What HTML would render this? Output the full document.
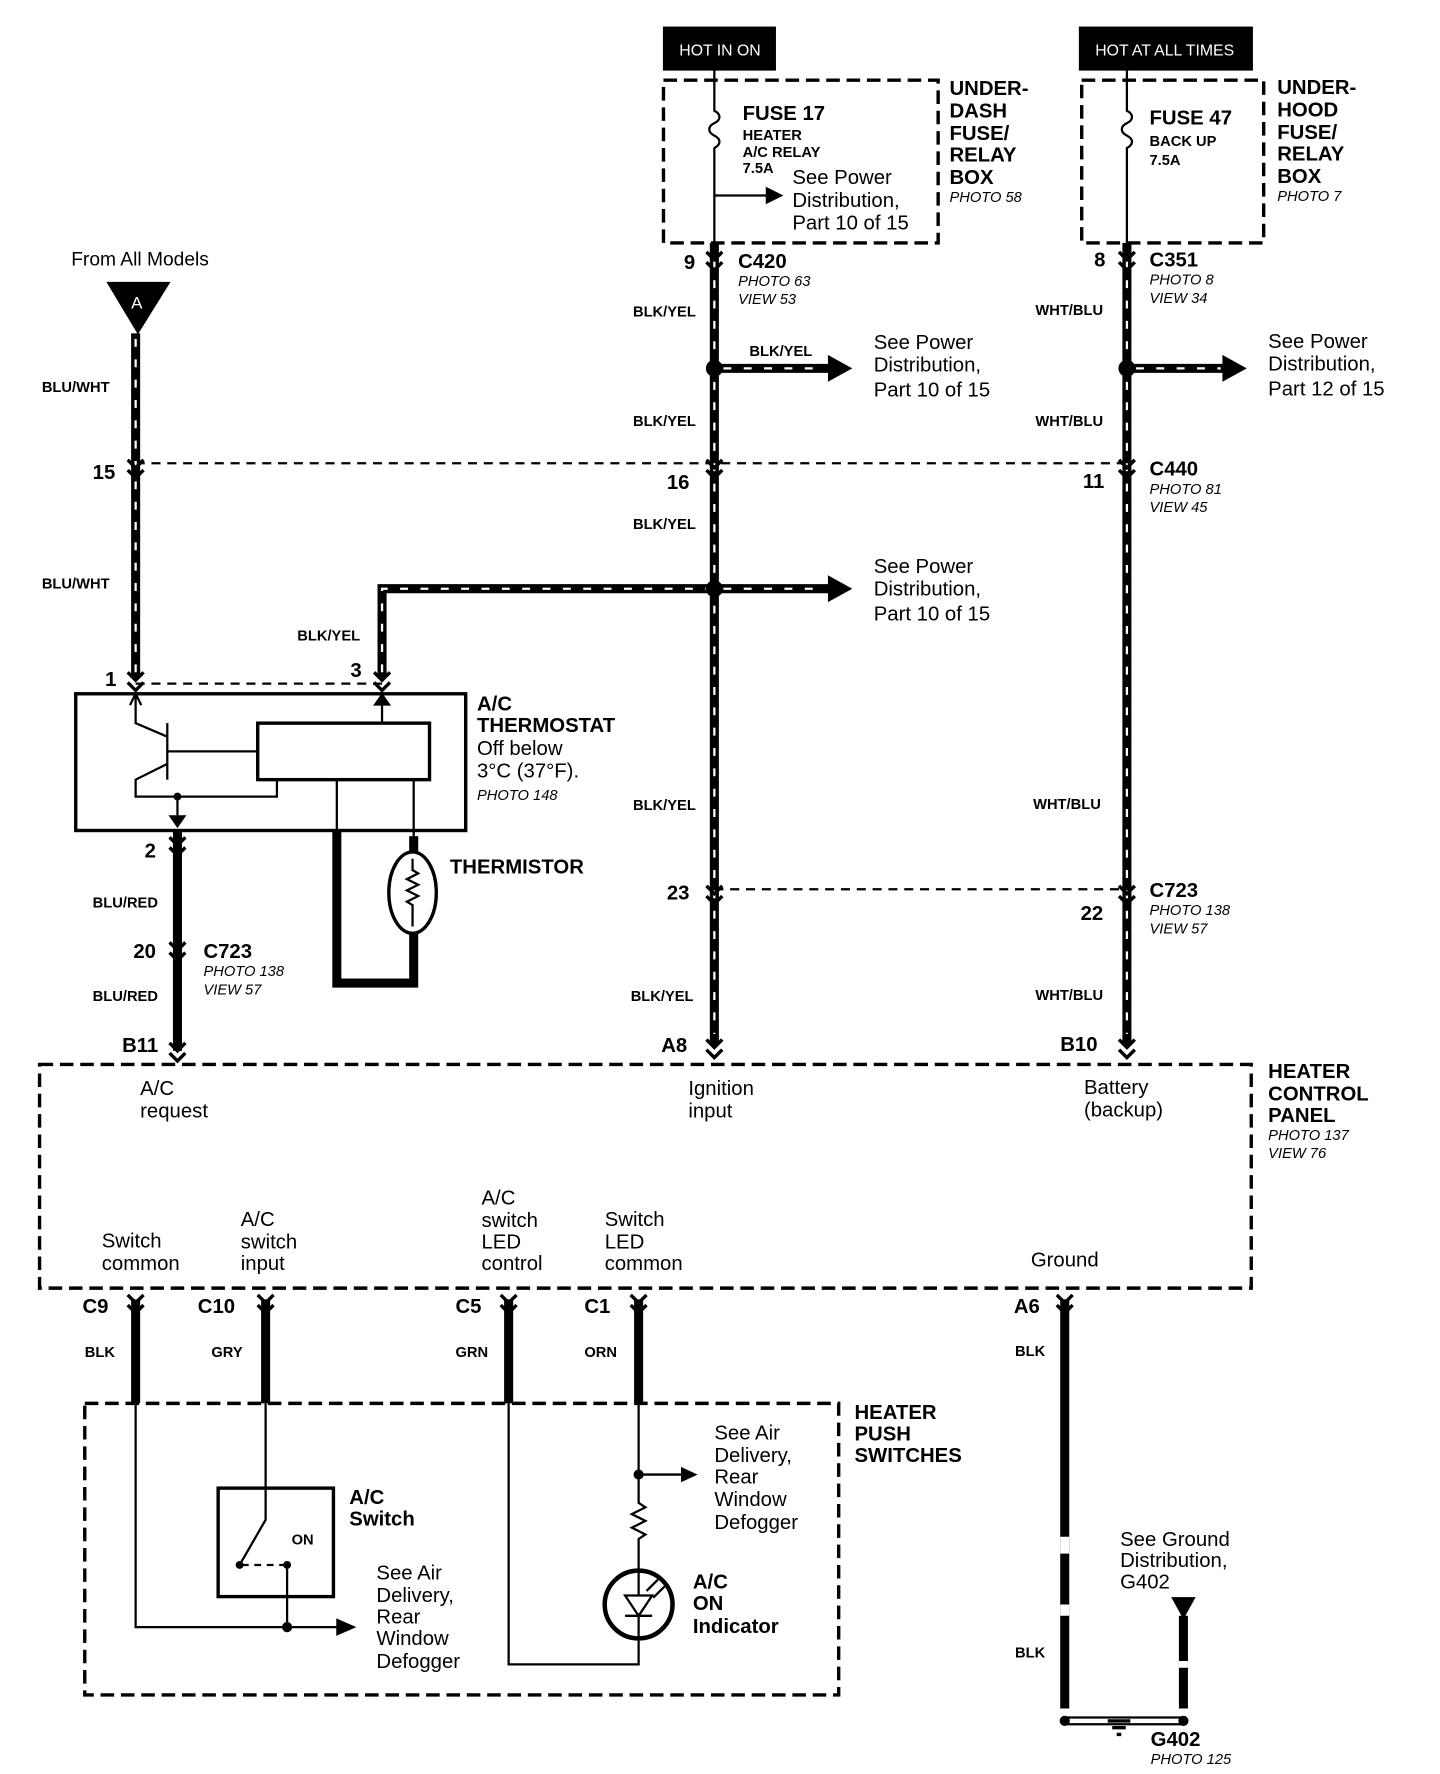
<!DOCTYPE html>
<html><head><meta charset="utf-8"><style>
html,body{margin:0;padding:0;background:#fff;}
svg{display:block}
text{font-family:"Liberation Sans",Arial,sans-serif;fill:#000}
.b{font-weight:bold}
.s{font-size:13px;font-weight:bold}
.i{font-size:13px;font-style:italic}
.n{font-size:18px}
.h{font-size:18px;font-weight:bold}
</style></head><body>
<svg width="1440" height="1774" viewBox="0 0 1274 1570" preserveAspectRatio="none" xmlns="http://www.w3.org/2000/svg">
<defs>
<g id="con"><path d="M-7,-9 L0,-2 L7,-9 M-7,0 L0,7 L7,0" fill="none" stroke="#000" stroke-width="3"/></g>
</defs>
<g fill="none" stroke="#000">
<!-- top boxes -->
<rect x="587" y="24" width="99" height="38" fill="#000"/>
<rect x="955" y="24" width="153" height="38" fill="#000"/>
<rect x="587" y="71" width="243" height="144" stroke-width="3" stroke-dasharray="12,6"/>
<rect x="957" y="71" width="161" height="144" stroke-width="3" stroke-dasharray="12,6"/>
<!-- fuse 17 -->
<path d="M632,62 V98 c6,3 6,8 0,11 c-6,3 -6,8 0,11 c6,3 6,8 0,11 V215" stroke-width="2"/>
<path d="M632,173 H680" stroke-width="2"/><path d="M678,166 L692,173 L678,180Z" fill="#000"/>
<path d="M997,62 V98 c6,3 6,8 0,11 c-6,3 -6,8 0,11 c6,3 6,8 0,11 V215" stroke-width="2"/>
<!-- dashed connector lines -->
<path d="M120,410 H997 M632,787 H997 M120,605 H338" stroke-width="2" stroke-dasharray="8,6"/>
<!-- striped wires -->
<g stroke-width="8">
<path d="M632,215 V925 M997,215 V925 M120,295 V600 M338,600 V521 H632 M632,326 H735 M997,326 H1085 M632,521 H735"/>
</g>
<g stroke="#fff" stroke-width="2" stroke-dasharray="7,11">
<path d="M632,230 V915 M997,230 V915 M120,300 V595 M338,595 V521 H625 M640,326 H730 M1005,326 H1080 M640,521 H730"/>
</g>
<path d="M733,315 L753,326 L733,337Z M733,510 L753,521 L733,532Z M1082,315 L1102,326 L1082,337Z" fill="#000"/>
<!-- solid thick wires -->
<g stroke-width="8">
<path d="M157,735 V930 M120,1150 V1242 M235,1150 V1242 M450,1150 V1242 M565,1150 V1242 M942,1150 V1512 M1047,1430 V1512"/>
<path d="M298,735 V870 H366 V740" />
</g>
<path d="M942,1360 V1375 M942,1420 V1430 M1047,1470 V1476" stroke="#fff" stroke-width="8"/>
<circle cx="632" cy="326" r="7" fill="#000"/><circle cx="997" cy="326" r="7" fill="#000"/><circle cx="632" cy="521" r="7" fill="#000"/>
<!-- connectors -->
<use href="#con" x="632" y="232"/><use href="#con" x="997" y="232"/>
<use href="#con" x="120" y="416"/><use href="#con" x="632" y="416"/><use href="#con" x="997" y="416"/>
<use href="#con" x="120" y="604"/><use href="#con" x="338" y="604"/>
<use href="#con" x="157" y="750"/><use href="#con" x="157" y="843"/>
<use href="#con" x="632" y="793"/><use href="#con" x="997" y="793"/>
<use href="#con" x="157" y="932"/><use href="#con" x="632" y="929"/><use href="#con" x="997" y="929"/>
<use href="#con" x="120" y="1155"/><use href="#con" x="235" y="1155"/><use href="#con" x="450" y="1155"/><use href="#con" x="565" y="1155"/><use href="#con" x="942" y="1155"/>
<!-- triangle A -->
<path d="M95,250 H150 L122,295Z" fill="#000"/>
<!-- thermostat -->
<rect x="67" y="614" width="345" height="121" stroke-width="3"/>
<rect x="228" y="640" width="152" height="50" stroke-width="3"/>
<path d="M120,614 V640 L148,652 M120,614 l-5,10 M120,614 l5,10 M148,640 V690 M148,665 H228 M148,676 L120,690 V705 H157 M157,705 V725 M157,705 H245 V690 M338,614 V640 M298,690 V740 M366,690 V740" stroke-width="2"/>
<path d="M150,722 L157,732 L164,722Z M331,624 L338,614 L345,624Z" fill="#000"/>
<circle cx="157" cy="705" r="3" fill="#000"/>
<ellipse cx="365" cy="790" rx="21" ry="36" stroke-width="3" fill="#fff"/>
<path d="M365,760 V770 l5,3 l-10,5 l10,5 l-10,5 l10,5 l-10,5 l5,3 V820" stroke-width="2"/>
<!-- heater control panel -->
<rect x="35" y="942" width="1072" height="198" stroke-width="3" stroke-dasharray="12,6"/>
<!-- push switches -->
<rect x="75" y="1242" width="667" height="258" stroke-width="3" stroke-dasharray="12,6"/>
<rect x="193" y="1317" width="102" height="96" stroke-width="3"/>
<path d="M120,1242 V1440 H300 M235,1242 V1345 L212,1385 M254,1385 V1440" stroke-width="2"/>
<path d="M214,1385 H254" stroke-width="2" stroke-dasharray="6,5"/>
<circle cx="212" cy="1385" r="3" fill="#000"/><circle cx="254" cy="1385" r="3" fill="#000"/><circle cx="254" cy="1440" r="4" fill="#000"/>
<path d="M298,1433 L314,1440 L298,1447Z" fill="#000"/>
<path d="M450,1242 V1473 H565 V1450 M565,1242 V1330 l6,4 l-12,6 l12,6 l-12,6 l12,6 l-6,4 V1390 M565,1305 H605" stroke-width="2"/>
<circle cx="565" cy="1305" r="4" fill="#000"/>
<path d="M603,1299 L616,1305 L603,1311Z" fill="#000"/>
<circle cx="565" cy="1420" r="30" stroke-width="4"/>
<path d="M553,1412 H577 L565,1430Z M553,1430 H577 M565,1390 V1412 M565,1430 V1450" stroke-width="2"/>
<path d="M572,1408 l10,-10 M578,1414 l10,-10" stroke-width="2"/>
<!-- ground -->
<path d="M1037,1414 H1057 L1047,1432Z" fill="#000"/>
<path d="M942,1520 H1047 M942,1526 H1047" stroke-width="2"/>
<circle cx="942" cy="1523" r="4" fill="#000"/><circle cx="1047" cy="1523" r="4" fill="#000"/>
<path d="M980,1523 H1000 M984,1529 H996 M988,1535 H992" stroke-width="3"/>
</g>
<!-- texts -->
<text x="601" y="49" font-size="14" style="fill:#fff">HOT IN ON</text>
<text x="969" y="49" font-size="14" style="fill:#fff">HOT AT ALL TIMES</text>
<text x="657" y="106" class="h">FUSE 17</text>
<text x="657" y="124" class="s">HEATER</text><text x="657" y="139" class="s">A/C RELAY</text><text x="657" y="153" class="s">7.5A</text>
<text x="701" y="163" class="n">See Power</text><text x="701" y="183" class="n">Distribution,</text><text x="701" y="203" class="n">Part 10 of 15</text>
<text x="840" y="84" class="h">UNDER-</text><text x="840" y="104" class="h">DASH</text><text x="840" y="124" class="h">FUSE/</text><text x="840" y="143" class="h">RELAY</text><text x="840" y="163" class="h">BOX</text><text x="840" y="179" class="i">PHOTO 58</text>
<text x="1017" y="110" class="h">FUSE 47</text><text x="1017" y="129" class="s">BACK UP</text><text x="1017" y="146" class="s">7.5A</text>
<text x="1130" y="83" class="h">UNDER-</text><text x="1130" y="103" class="h">HOOD</text><text x="1130" y="123" class="h">FUSE/</text><text x="1130" y="142" class="h">RELAY</text><text x="1130" y="162" class="h">BOX</text><text x="1130" y="178" class="i">PHOTO 7</text>
<text x="63" y="235" font-size="17">From All Models</text>
<text x="116" y="273" font-size="15" style="fill:#fff">A</text>
<text x="605" y="238" class="h">9</text><text x="653" y="237" class="h">C420</text><text x="653" y="253" class="i">PHOTO 63</text><text x="653" y="269" class="i">VIEW 53</text>
<text x="968" y="236" class="h">8</text><text x="1017" y="236" class="h">C351</text><text x="1017" y="252" class="i">PHOTO 8</text><text x="1017" y="268" class="i">VIEW 34</text>
<text x="560" y="280" class="s">BLK/YEL</text><text x="663" y="315" class="s">BLK/YEL</text>
<text x="773" y="309" class="n">See Power</text><text x="773" y="329" class="n">Distribution,</text><text x="773" y="351" class="n">Part 10 of 15</text>
<text x="916" y="279" class="s">WHT/BLU</text>
<text x="1122" y="308" class="n">See Power</text><text x="1122" y="328" class="n">Distribution,</text><text x="1122" y="350" class="n">Part 12 of 15</text>
<text x="37" y="347" class="s">BLU/WHT</text>
<text x="560" y="377" class="s">BLK/YEL</text><text x="916" y="377" class="s">WHT/BLU</text>
<text x="82" y="424" class="h">15</text><text x="590" y="433" class="h">16</text><text x="958" y="432" class="h">11</text>
<text x="1017" y="421" class="h">C440</text><text x="1017" y="437" class="i">PHOTO 81</text><text x="1017" y="453" class="i">VIEW 45</text>
<text x="560" y="468" class="s">BLK/YEL</text>
<text x="773" y="507" class="n">See Power</text><text x="773" y="527" class="n">Distribution,</text><text x="773" y="549" class="n">Part 10 of 15</text>
<text x="37" y="521" class="s">BLU/WHT</text>
<text x="263" y="567" class="s">BLK/YEL</text>
<text x="93" y="607" class="h">1</text><text x="310" y="599" class="h">3</text>
<text x="422" y="629" class="h">A/C</text><text x="422" y="648" class="h">THERMOSTAT</text>
<text x="422" y="668" class="n">Off below</text><text x="422" y="688" class="n">3°C (37°F).</text><text x="422" y="708" class="i">PHOTO 148</text>
<text x="560" y="717" class="s">BLK/YEL</text><text x="914" y="716" class="s">WHT/BLU</text>
<text x="128" y="759" class="h">2</text>
<text x="398" y="773" class="h">THERMISTOR</text>
<text x="590" y="796" class="h">23</text>
<text x="1017" y="794" class="h">C723</text><text x="1017" y="810" class="i">PHOTO 138</text><text x="1017" y="826" class="i">VIEW 57</text>
<text x="956" y="814" class="h">22</text>
<text x="82" y="803" class="s">BLU/RED</text>
<text x="118" y="848" class="h">20</text><text x="180" y="848" class="h">C723</text><text x="180" y="864" class="i">PHOTO 138</text><text x="180" y="880" class="i">VIEW 57</text>
<text x="82" y="886" class="s">BLU/RED</text><text x="558" y="886" class="s">BLK/YEL</text><text x="916" y="885" class="s">WHT/BLU</text>
<text x="108" y="931" class="h">B11</text><text x="585" y="931" class="h">A8</text><text x="938" y="930" class="h">B10</text>
<text x="124" y="969" class="n">A/C</text><text x="124" y="989" class="n">request</text>
<text x="609" y="969" class="n">Ignition</text><text x="609" y="989" class="n">input</text>
<text x="959" y="968" class="n">Battery</text><text x="959" y="988" class="n">(backup)</text>
<text x="1122" y="954" class="h">HEATER</text><text x="1122" y="974" class="h">CONTROL</text><text x="1122" y="993" class="h">PANEL</text><text x="1122" y="1009" class="i">PHOTO 137</text><text x="1122" y="1025" class="i">VIEW 76</text>
<text x="90" y="1104" class="n">Switch</text><text x="90" y="1124" class="n">common</text>
<text x="213" y="1085" class="n">A/C</text><text x="213" y="1105" class="n">switch</text><text x="213" y="1124" class="n">input</text>
<text x="426" y="1066" class="n">A/C</text><text x="426" y="1086" class="n">switch</text><text x="426" y="1105" class="n">LED</text><text x="426" y="1124" class="n">control</text>
<text x="535" y="1085" class="n">Switch</text><text x="535" y="1105" class="n">LED</text><text x="535" y="1124" class="n">common</text>
<text x="912" y="1121" class="n">Ground</text>
<text x="73" y="1162" class="h">C9</text><text x="175" y="1162" class="h">C10</text><text x="403" y="1162" class="h">C5</text><text x="517" y="1162" class="h">C1</text><text x="897" y="1162" class="h">A6</text>
<text x="75" y="1201" class="s">BLK</text><text x="187" y="1201" class="s">GRY</text><text x="403" y="1201" class="s">GRN</text><text x="517" y="1201" class="s">ORN</text><text x="898" y="1200" class="s">BLK</text>
<text x="756" y="1256" class="h">HEATER</text><text x="756" y="1275" class="h">PUSH</text><text x="756" y="1294" class="h">SWITCHES</text>
<text x="632" y="1274" class="n">See Air</text><text x="632" y="1294" class="n">Delivery,</text><text x="632" y="1313" class="n">Rear</text><text x="632" y="1333" class="n">Window</text><text x="632" y="1353" class="n">Defogger</text>
<text x="309" y="1331" class="h">A/C</text><text x="309" y="1350" class="h">Switch</text>
<text x="258" y="1367" class="s">ON</text>
<text x="991" y="1368" class="n">See Ground</text><text x="991" y="1387" class="n">Distribution,</text><text x="991" y="1406" class="n">G402</text>
<text x="333" y="1398" class="n">See Air</text><text x="333" y="1418" class="n">Delivery,</text><text x="333" y="1437" class="n">Rear</text><text x="333" y="1456" class="n">Window</text><text x="333" y="1476" class="n">Defogger</text>
<text x="613" y="1406" class="h">A/C</text><text x="613" y="1425" class="h">ON</text><text x="613" y="1445" class="h">Indicator</text>
<text x="898" y="1467" class="s">BLK</text>
<text x="1018" y="1545" class="h">G402</text><text x="1018" y="1561" class="i">PHOTO 125</text>
</svg>
</body></html>
